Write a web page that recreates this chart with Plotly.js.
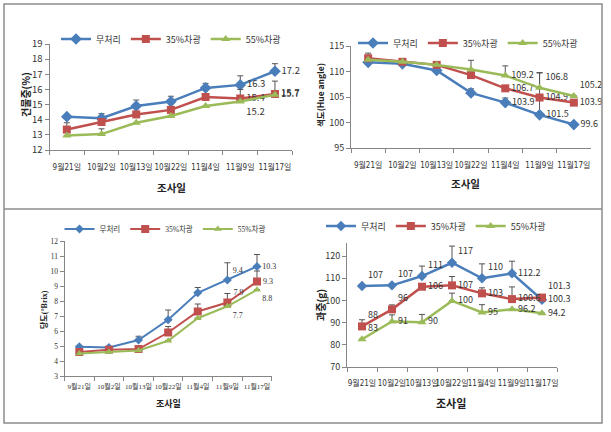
<!DOCTYPE html>
<html><head><meta charset="utf-8">
<script src="https://cdn.plot.ly/plotly-3.0.1.min.js"></script>
<style>html,body{margin:0;padding:0;background:#fff}#c{width:611px;height:432px}</style>
</head><body><div id="c"></div>
<script>
const dates = ['9월21일','10월2일','10월13일','10월22일','11월4일','11월9일','11월17일'];
const seriesNames = ['무처리','35%차광','55%차광'];

// Panel 1: 건물중(%)
const dry_ctrl = [14.2, 14.1, 14.9, 15.2, 16.1, 16.3, 17.2];
const dry_35 = [13.35, 13.85, 14.35, 14.65, 15.5, 15.4, 15.7];
const dry_55 = [12.95, 13.05, 13.8, 14.25, 14.9, 15.2, 15.65];
const dry_ctrl_err = [0, 0.3, 0.4, 0.35, 0.3, 0.6, 0.5];
const dry_35_err = [0.45, 0, 0, 0, 0, 0.6, 0.85];
const dry_55_err = [0, 0.35, 0, 0, 0, 0, 0];
const dry_ctrl_lbl = ['','','','','','16.3','17.2'];
const dry_35_lbl = ['','','','','','15.4','15.7'];
const dry_55_lbl = ['','','','','','15.2','15.7'];

// Panel 2: 색도(Hue angle)
const hue_ctrl = [111.8, 111.5, 110.2, 105.8, 103.9, 101.5, 99.6];
const hue_35 = [112.6, 111.9, 111.3, 109.3, 106.7, 104.9, 103.9];
const hue_55 = [112.3, 111.9, 111.3, 110.4, 109.2, 106.8, 105.2];
const hue_ctrl_err = [0, 0, 0, 0.8, 0.9, 8.2, 0];
const hue_35_err = [1.0, 0.3, 0.2, 0, 0, 0, 0];
const hue_55_err = [0, 0, 0, 1.8, 1.9, 3.0, 0];
const hue_ctrl_lbl = ['','','','','103.9','101.5','99.6'];
const hue_35_lbl = ['','','','','106.7','104.9','103.9'];
const hue_55_lbl = ['','','','','109.2','106.8','105.2'];

// Panel 3: 당도(°Brix)
const brix_ctrl = [4.95, 4.9, 5.4, 6.75, 8.55, 9.4, 10.3];
const brix_35 = [4.6, 4.75, 4.8, 5.9, 7.3, 7.9, 9.3];
const brix_55 = [4.5, 4.6, 4.7, 5.35, 6.85, 7.65, 8.75];
const brix_ctrl_err = [0, 0, 0.25, 0.65, 0.35, 1.15, 0.8];
const brix_35_err = [0, 0, 0, 0.4, 0.5, 0.6, 0.7];
const brix_55_err = [0, 0, 0, 0, 0, 0, 0];
const brix_ctrl_lbl = ['','','','','','9.4','10.3'];
const brix_35_lbl = ['','','','','','7.9','9.3'];
const brix_55_lbl = ['','','','','','7.7','8.8'];

// Panel 4: 과중(g)
const wt_ctrl = [106.5, 106.8, 111, 117, 110, 112.2, 100.3];
const wt_35 = [88.3, 96, 106.2, 106.8, 103.2, 100.6, 101.3];
const wt_55 = [82.5, 90.5, 90.2, 99.8, 94.6, 96, 94.2];
const wt_ctrl_err = [0, 0, 4.5, 7.5, 6.5, 5.5, 0];
const wt_35_err = [3, 2, 0, 4, 2.5, 5.5, 0];
const wt_55_err = [0, 3, 3.5, 3.5, 3.5, 0, 0];
const wt_ctrl_lbl = ['107','107','111','117','110','112.2','100.3'];
const wt_35_lbl = ['88','96','106','107','103','100.6','101.3'];
const wt_55_lbl = ['83','91','90','100','95','96.2','94.2'];

const colors = ['#4a7ebb', '#c0504d', '#9bbb59'];
const symbols = ['diamond', 'square', 'triangle-up'];
const W = 611, H = 432;
const px = v => v / W;
const py = v => 1 - v / H;
const sans = 'Noto Sans CJK KR, Noto Sans, sans-serif';
const narrow = 'Liberation Sans Narrow, DejaVu Sans Condensed, Noto Sans CJK KR, sans-serif';
const serif = 'Liberation Serif, Noto Sans CJK KR, serif';
const MR = 'middle right', TR = 'top right', BR = 'bottom right';

function mk(ax, leg, ys, errs, lbls, i, opts, tpos) {
  return {
    type: 'scatter', mode: 'lines+markers+text',
    x: dates, y: ys, text: lbls, name: seriesNames[i],
    xaxis: 'x' + (ax === 1 ? '' : ax), yaxis: 'y' + (ax === 1 ? '' : ax),
    legend: leg, cliponaxis: false,
    textposition: tpos || MR,
    textfont: {family: opts.font, size: opts.tsize, color: '#333'},
    line: {color: colors[i], width: opts.lw},
    marker: {symbol: symbols[i], color: colors[i], size: opts.ms[i]},
    error_y: {type: 'data', symmetric: false, array: errs, arrayminus: errs.map(() => 0),
      color: '#555', thickness: 1, width: 3},
    hoverinfo: 'skip'
  };
}

const o1 = {font: sans, tsize: 9.5, lw: 2.5, ms: [9, 8, 8]};
const o2 = {font: sans, tsize: 9, lw: 2.5, ms: [9, 8, 8]};
const o3 = {font: serif, tsize: 8, lw: 2, ms: [7, 8, 7]};
const o4 = {font: sans, tsize: 9, lw: 2.5, ms: [8, 8, 8]};

const data = [
  mk(1, 'legend', dry_ctrl, dry_ctrl_err, dry_ctrl_lbl, 0, o1, MR),
  mk(1, 'legend', dry_35, dry_35_err, dry_35_lbl, 1, o1, MR),
  mk(1, 'legend', dry_55, dry_55_err, dry_55_lbl, 2, o1, [MR,MR,MR,MR,MR,BR,MR]),
  mk(2, 'legend2', hue_ctrl, hue_ctrl_err, hue_ctrl_lbl, 0, o2, MR),
  mk(2, 'legend2', hue_35, hue_35_err, hue_35_lbl, 1, o2, MR),
  mk(2, 'legend2', hue_55, hue_55_err, hue_55_lbl, 2, o2, [MR,MR,MR,MR,MR,TR,TR]),
  mk(3, 'legend3', brix_ctrl, brix_ctrl_err, brix_ctrl_lbl, 0, o3, [MR,MR,MR,MR,MR,TR,MR]),
  mk(3, 'legend3', brix_35, brix_35_err, brix_35_lbl, 1, o3, [MR,MR,MR,MR,MR,TR,MR]),
  mk(3, 'legend3', brix_55, brix_55_err, brix_55_lbl, 2, o3, [MR,MR,MR,MR,MR,BR,BR]),
  mk(4, 'legend4', wt_ctrl, wt_ctrl_err, wt_ctrl_lbl, 0, o4, [TR,TR,TR,TR,TR,MR,MR]),
  mk(4, 'legend4', wt_35, wt_35_err, wt_35_lbl, 1, o4, [TR,TR,MR,MR,MR,MR,TR]),
  mk(4, 'legend4', wt_55, wt_55_err, wt_55_lbl, 2, o4, [TR,MR,MR,MR,MR,MR,MR])
];

function xax(d0, d1, anchor, fs, fam, stand) {
  return {domain: [px(d0), px(d1)], anchor: anchor, type: 'category', range: [-0.5, 6.5],
    showline: true, linecolor: '#868686', linewidth: 1, ticks: 'outside', tickson: 'boundaries',
    ticklen: 4, tickcolor: '#868686', showgrid: false, zeroline: false, fixedrange: true,
    tickangle: 0, ticklabelstandoff: stand,
    tickfont: {family: fam, size: fs, color: '#333'}, automargin: false};
}
function yax(d0, d1, anchor, rng, dt, fs, fam) {
  return {domain: [py(d1), py(d0)], anchor: anchor, range: rng, dtick: dt,
    showline: true, linecolor: '#868686', linewidth: 1, ticks: 'outside', ticklen: 4,
    tickcolor: '#868686', showgrid: false, zeroline: false, fixedrange: true,
    tickfont: {family: fam, size: fs, color: '#333'}, automargin: false};
}

const legBase = (x, y, fs, fam) => ({orientation: 'h', x: px(x), y: py(y), xanchor: 'center', yanchor: 'middle',
  font: {family: fam, size: fs, color: '#333'}, bgcolor: 'rgba(0,0,0,0)', itemwidth: 30, tracegroupgap: 0});

function ann(text, x, y, fam, size, angle) {
  return {text: text, x: px(x), y: py(y), xref: 'paper', yref: 'paper', showarrow: false,
    xanchor: 'center', yanchor: 'middle',
    textangle: angle || 0, font: {family: fam, size: size, color: '#222'}};
}

const layout = {
  width: W, height: H, margin: {l: 0, r: 0, t: 0, b: 0},
  paper_bgcolor: '#fff', plot_bgcolor: '#fff', showlegend: true,
  xaxis: xax(49.5, 292.3, 'y', 8, narrow, 9),
  yaxis: yax(44, 150, 'x', [12, 19], 1, 9.5, sans),
  xaxis2: xax(351, 591, 'y2', 8, narrow, 9),
  yaxis2: yax(46, 148, 'x2', [95, 115], 5, 9, sans),
  xaxis3: xax(64.5, 271.8, 'y3', 7, serif, 4),
  yaxis3: yax(241, 376, 'x3', [3, 12], 1, 7.5, serif),
  xaxis4: xax(347, 557, 'y4', 8, narrow, 8),
  yaxis4: yax(243, 367, 'x4', [70, 125.9], 10, 9, sans),
  legend: legBase(171, 39, 9, sans),
  legend2: legBase(468, 43, 9, sans),
  legend3: legBase(165, 229, 7.5, serif),
  legend4: legBase(436, 226, 9, sans),
  annotations: [
    ann('<b>조사일</b>', 171, 188, sans, 10.5),
    ann('<b>조사일</b>', 466, 183, sans, 10.5),
    ann('<b>조사일</b>', 168, 403, serif, 9),
    ann('<b>조사일</b>', 451, 403, sans, 11),
    ann('<b>건물중(%)</b>', 25, 95, sans, 10, -90),
    ann('<b>색도(Hue angle)</b>', 320, 95, sans, 8.5, -90),
    ann('<b>당도(°Brix)</b>', 44, 310, serif, 8, -90),
    ann('<b>과중(g)</b>', 320, 305, sans, 10, -90)
  ],
  shapes: [
    {type: 'rect', xref: 'paper', yref: 'paper', x0: px(4), x1: px(602), y0: py(423), y1: py(4), line: {color: '#8c8c8c', width: 1.5}},
    {type: 'line', xref: 'paper', yref: 'paper', x0: px(4), x1: px(602), y0: py(209), y1: py(209), line: {color: '#8c8c8c', width: 1.5}}
  ]
};

Plotly.newPlot('c', data, layout, {staticPlot: true});
</script></body></html>
